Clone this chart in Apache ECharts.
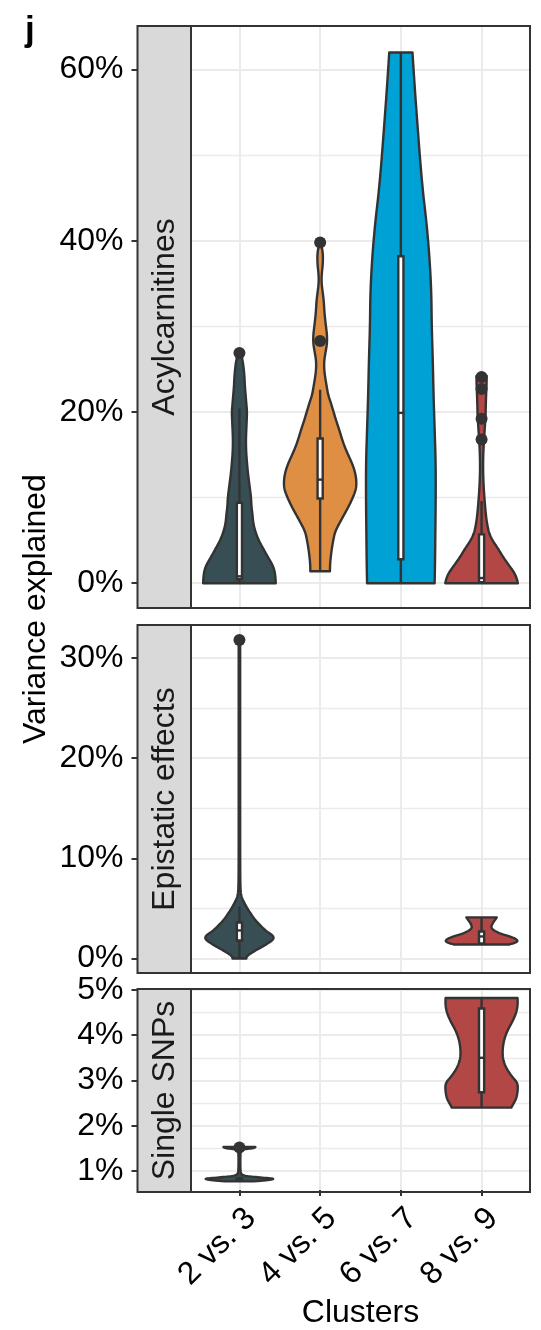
<!DOCTYPE html>
<html><head><meta charset="utf-8">
<script src="https://cdn.jsdelivr.net/npm/echarts@6/dist/echarts.min.js"></script>
<style>html,body{margin:0;padding:0;background:#fff}#c{width:541px;height:1330px}</style>
</head><body><div id="c"></div><script>
// ---------------- data ----------------
const clusters = ['2 vs. 3', '4 vs. 5', '6 vs. 7', '8 vs. 9'];
const facets = ['Acylcarnitines', 'Epistatic effects', 'Single SNPs'];
const colors = ['#374E55', '#DF8F44', '#00A1D5', '#B24745'];

// y ticks (percent)
const acylTicks = [0, 20, 40, 60];
const acylMinor = [10, 30, 50];
const epiTicks = [0, 10, 20, 30];
const epiMinor = [5, 15, 25];
const snpTicks = [1, 2, 3, 4, 5];
const snpMinor = [1.5, 2.5, 3.5, 4.5];

// violin outlines: [value %, relative width 0..1]
const acyl_2v3 = [[0,1.0],[1,0.99],[2,0.93],[3,0.79],[4,0.66],[5,0.53],[6,0.44],[7,0.38],[8,0.36],[9,0.33],[10,0.32],[11,0.29],[12,0.26],[13,0.23],[14,0.21],[15,0.19],[16,0.18],[17,0.18],[18,0.19],[19,0.2],[20,0.21],[21,0.19],[22,0.17],[23,0.15],[24,0.14],[25,0.12],[26,0.09],[26.9,0.04]];
const acyl_4v5 = [[1.4,0.27],[2,0.27],[3,0.29],[4,0.32],[5,0.36],[6,0.41],[7,0.53],[8,0.66],[9,0.79],[10,0.9],[11,0.99],[12,1.0],[13,0.96],[14,0.88],[15,0.77],[16,0.67],[17,0.59],[18,0.52],[19,0.44],[20,0.37],[21,0.3],[22,0.22],[23,0.18],[24,0.14],[25,0.11],[26,0.11],[27,0.15],[28,0.19],[29,0.19],[30,0.16],[31.5,0.12],[33,0.1],[34,0.07],[35,0.04],[36,0.04],[37.5,0.08],[39,0.07],[39.8,0.01]];
const acyl_6v7 = [[0,0.93],[2,0.94],[6,0.95],[10,0.96],[14,0.96],[18,0.93],[22,0.9],[26,0.88],[30,0.85],[34,0.84],[38,0.79],[42,0.71],[46,0.6],[50,0.52],[54,0.45],[58,0.38],[62,0.32]];
const acyl_8v9 = [[0,1.0],[0.85,0.96],[2,0.77],[3,0.6],[4,0.46],[5,0.3],[5.9,0.2],[7,0.15],[7.9,0.12],[9.8,0.08],[11.8,0.05],[13.7,0.04],[15.6,0.05],[17.6,0.08],[19.5,0.11],[21.5,0.12],[23.4,0.14],[24.2,0.14]];
const epi_2v3 = [[0,0.19],[0.2,0.18],[0.8,0.44],[1.5,0.79],[2.1,1.0],[2.8,0.71],[3.8,0.44],[4.8,0.25],[5.5,0.14],[6.2,0.05],[7,0.025],[10,0.02],[20,0.02],[31.8,0.02]];
const epi_8v9 = [[1.4,0.77],[1.6,0.96],[1.8,1.0],[2.1,0.87],[2.5,0.49],[3.0,0.25],[3.5,0.3],[3.8,0.36],[4.1,0.42]];
const snp_2v3 = [[0.77,0.4],[0.8,0.8],[0.83,1.0],[0.86,0.5],[0.9,0.06],[1.0,0.025],[1.4,0.025],[1.48,0.05],[1.5,0.41],[1.53,0.44]];
const snp_8v9 = [[2.4,0.82],[2.45,0.85],[2.6,0.96],[2.8,1.0],[2.95,0.99],[3.1,0.82],[3.3,0.66],[3.5,0.58],[3.7,0.58],[3.9,0.62],[4.1,0.71],[4.3,0.85],[4.5,0.96],[4.7,1.0],[4.82,0.99]];

// boxplot stats: [lower whisker, Q1, median, Q3, upper whisker]
const acylBoxes = [[0,0.47,0.8,9.4,20.4],[1.4,9.9,12.1,16.9,22.6],[0,2.8,19.9,38.2,62],[0,0.1,0.6,5.7,9.6]];
const epiBoxes = [[0,1.8,2.8,3.6,5.2], null, null, [1.4,1.5,2.2,2.7,4.1]];
const snpBoxes = [[0.78,0.8,0.82,0.84,0.87], null, null, [2.4,2.74,3.5,4.59,4.82]];

// outliers
const acylOutliers = [[26.9], [28.3, 39.8], [], [16.8, 19.2, 22.7, 24.1]];
const epiOutliers = [[31.8], [], [], []];
const snpOutliers = [[1.52], [], [], []];

// ---------------- layout ----------------
const PLOT_L = 191, PLOT_R = 530, STRIP_L = 137.5;
const panels = [
  {top: 26, bottom: 608, min: -2.9, max: 65.1, ticks: acylTicks, minor: acylMinor, violins: [acyl_2v3, acyl_4v5, acyl_6v7, acyl_8v9], boxes: acylBoxes, outliers: acylOutliers},
  {top: 625, bottom: 973, min: -1.45, max: 33.3, ticks: epiTicks, minor: epiMinor, violins: [epi_2v3, null, null, epi_8v9], boxes: epiBoxes, outliers: epiOutliers},
  {top: 989, bottom: 1192, min: 0.58, max: 5.02, ticks: snpTicks, minor: snpMinor, violins: [snp_2v3, null, null, snp_8v9], boxes: snpBoxes, outliers: snpOutliers}
];
const FONT = 'Liberation Sans, Arial, sans-serif';
const FS = 32;
const HALF = 0.45, BOX_HALF = 0.032;
const INK = '#333333';
const LW = 2.4;
const xPos = clusters.map((c, i) => i + 1);

function mid(a, b) { return [(a[0] + b[0]) / 2, (a[1] + b[1]) / 2]; }
function smoothSide(pts) {
  const out = [pts[0]];
  const n = pts.length;
  if (n === 2) { out.push(pts[1]); return out; }
  for (let i = 1; i < n - 1; i++) {
    const a = i === 1 ? pts[0] : mid(pts[i - 1], pts[i]);
    const b = i === n - 2 ? pts[n - 1] : mid(pts[i], pts[i + 1]);
    const c = pts[i];
    for (let k = 1; k <= 8; k++) {
      const t = k / 8, u = 1 - t;
      out.push([u * u * a[0] + 2 * u * t * c[0] + t * t * b[0], u * u * a[1] + 2 * u * t * c[1] + t * t * b[1]]);
    }
  }
  return out;
}

const grid = [], xAxis = [], yAxis = [], series = [], graphic = [];
panels.forEach((p, i) => {
  grid.push({left: PLOT_L, right: 541 - PLOT_R, top: p.top, height: p.bottom - p.top});
  const last = i === panels.length - 1;
  xAxis.push({
    gridIndex: i, type: 'value', min: 0.4, max: 4.6,
    axisLine: {show: false},
    axisTick: {show: last, customValues: xPos, length: 6, lineStyle: {color: INK, width: 2}},
    axisLabel: {show: last, customValues: xPos, formatter: v => clusters[Math.round(v) - 1], rotate: 45,
      fontSize: FS, fontFamily: FONT, color: '#000', align: 'right', verticalAlign: 'top', margin: 12},
    splitLine: {show: true, lineStyle: {color: '#EBEBEB', width: 2}},
    name: last ? 'Clusters' : '', nameLocation: 'middle', nameGap: 107,
    nameTextStyle: {fontSize: FS, fontFamily: FONT, color: '#000'}
  });
  yAxis.push({
    gridIndex: i, type: 'value', min: p.min, max: p.max, position: 'left', offset: PLOT_L - STRIP_L,
    axisLine: {show: false},
    axisTick: {show: true, customValues: p.ticks, length: 6, lineStyle: {color: INK, width: 2}},
    axisLabel: {customValues: p.ticks, formatter: v => v + '%', fontSize: FS, fontFamily: FONT, color: '#000', margin: 14},
    splitLine: {show: true, lineStyle: {color: '#EBEBEB', width: 2}}
  });
});
panels.forEach((p, i) => {
  yAxis.push({
    gridIndex: i, type: 'value', min: p.min, max: p.max, position: 'left',
    axisLine: {show: false}, axisLabel: {show: false},
    axisTick: {show: false, customValues: p.minor},
    splitLine: {show: true, lineStyle: {color: '#EBEBEB', width: 1.3}}
  });
});

panels.forEach((p, i) => {
  const vData = [];
  p.violins.forEach((prof, g) => { if (prof) vData.push([g + 1, g]); });
  series.push({
    type: 'custom', xAxisIndex: i, yAxisIndex: i, z: 2, data: vData, encode: {x: 0},
    renderItem(params, api) {
      const x = api.value(0), g = api.value(1);
      const prof = p.violins[g];
      const R = prof.map(([v, d]) => api.coord([x + d * HALF, v]));
      const L = prof.map(([v, d]) => api.coord([x - d * HALF, v])).reverse();
      const pts = smoothSide(R).concat(smoothSide(L));
      return {type: 'polygon', shape: {points: pts}, style: {fill: colors[g], stroke: INK, lineWidth: LW, lineJoin: 'round'}};
    }
  });
  const bData = [];
  p.boxes.forEach((b, g) => { if (b) bData.push([g + 1].concat(b)); });
  series.push({
    type: 'custom', xAxisIndex: i, yAxisIndex: i, z: 3, data: bData, encode: {x: 0},
    renderItem(params, api) {
      const x = api.value(0);
      const c = v => api.coord([x, v]);
      const pMin = c(api.value(1)), pQ1 = c(api.value(2)), pMd = c(api.value(3)), pQ3 = c(api.value(4)), pMax = c(api.value(5));
      const hw = api.size([BOX_HALF, 0])[0];
      const ls = {stroke: INK, lineWidth: LW};
      return {type: 'group', children: [
        {type: 'line', shape: {x1: pMin[0], y1: pMin[1], x2: pQ1[0], y2: pQ1[1]}, style: ls},
        {type: 'line', shape: {x1: pQ3[0], y1: pQ3[1], x2: pMax[0], y2: pMax[1]}, style: ls},
        {type: 'rect', shape: {x: pQ1[0] - hw, y: pQ3[1], width: 2 * hw, height: pQ1[1] - pQ3[1]}, style: {fill: '#fff', stroke: INK, lineWidth: LW}},
        {type: 'line', shape: {x1: pMd[0] - hw, y1: pMd[1], x2: pMd[0] + hw, y2: pMd[1]}, style: {stroke: INK, lineWidth: LW}}
      ]};
    }
  });
  const oData = [];
  p.outliers.forEach((arr, g) => arr.forEach(v => oData.push([g + 1, v])));
  series.push({
    type: 'scatter', xAxisIndex: i, yAxisIndex: i, z: 4, data: oData, symbolSize: 12,
    itemStyle: {color: INK, opacity: 1}, silent: true
  });

  // strip + panel border
  graphic.push({type: 'rect', z: 50, shape: {x: STRIP_L, y: p.top, width: PLOT_L - STRIP_L, height: p.bottom - p.top},
    style: {fill: '#D9D9D9', stroke: INK, lineWidth: 2}});
  graphic.push({type: 'text', z: 51, x: (STRIP_L + PLOT_L) / 2 + 1, y: (p.top + p.bottom) / 2, rotation: Math.PI / 2,
    style: {text: facets[i], fontSize: FS, fontFamily: FONT, fill: '#1A1A1A', align: 'center', verticalAlign: 'middle'}});
  graphic.push({type: 'rect', z: 60, shape: {x: PLOT_L, y: p.top, width: PLOT_R - PLOT_L, height: p.bottom - p.top},
    style: {fill: 'none', stroke: INK, lineWidth: 2}});
});

graphic.push({type: 'text', z: 51, x: 36, y: (panels[0].top + panels[2].bottom) / 2, rotation: Math.PI / 2,
  style: {text: 'Variance explained', fontSize: FS, fontFamily: FONT, fill: '#000', align: 'center', verticalAlign: 'middle'}});
graphic.push({type: 'text', z: 51, x: 25, y: 31,
  style: {text: 'j', fontSize: 35, fontWeight: 'bold', fontFamily: FONT, fill: '#000', align: 'left', verticalAlign: 'middle'}});

const chart = echarts.init(document.getElementById('c'), null, {renderer: 'canvas'});
chart.setOption({animation: false, backgroundColor: '#fff', grid, xAxis, yAxis, series, graphic});
</script></body></html>
